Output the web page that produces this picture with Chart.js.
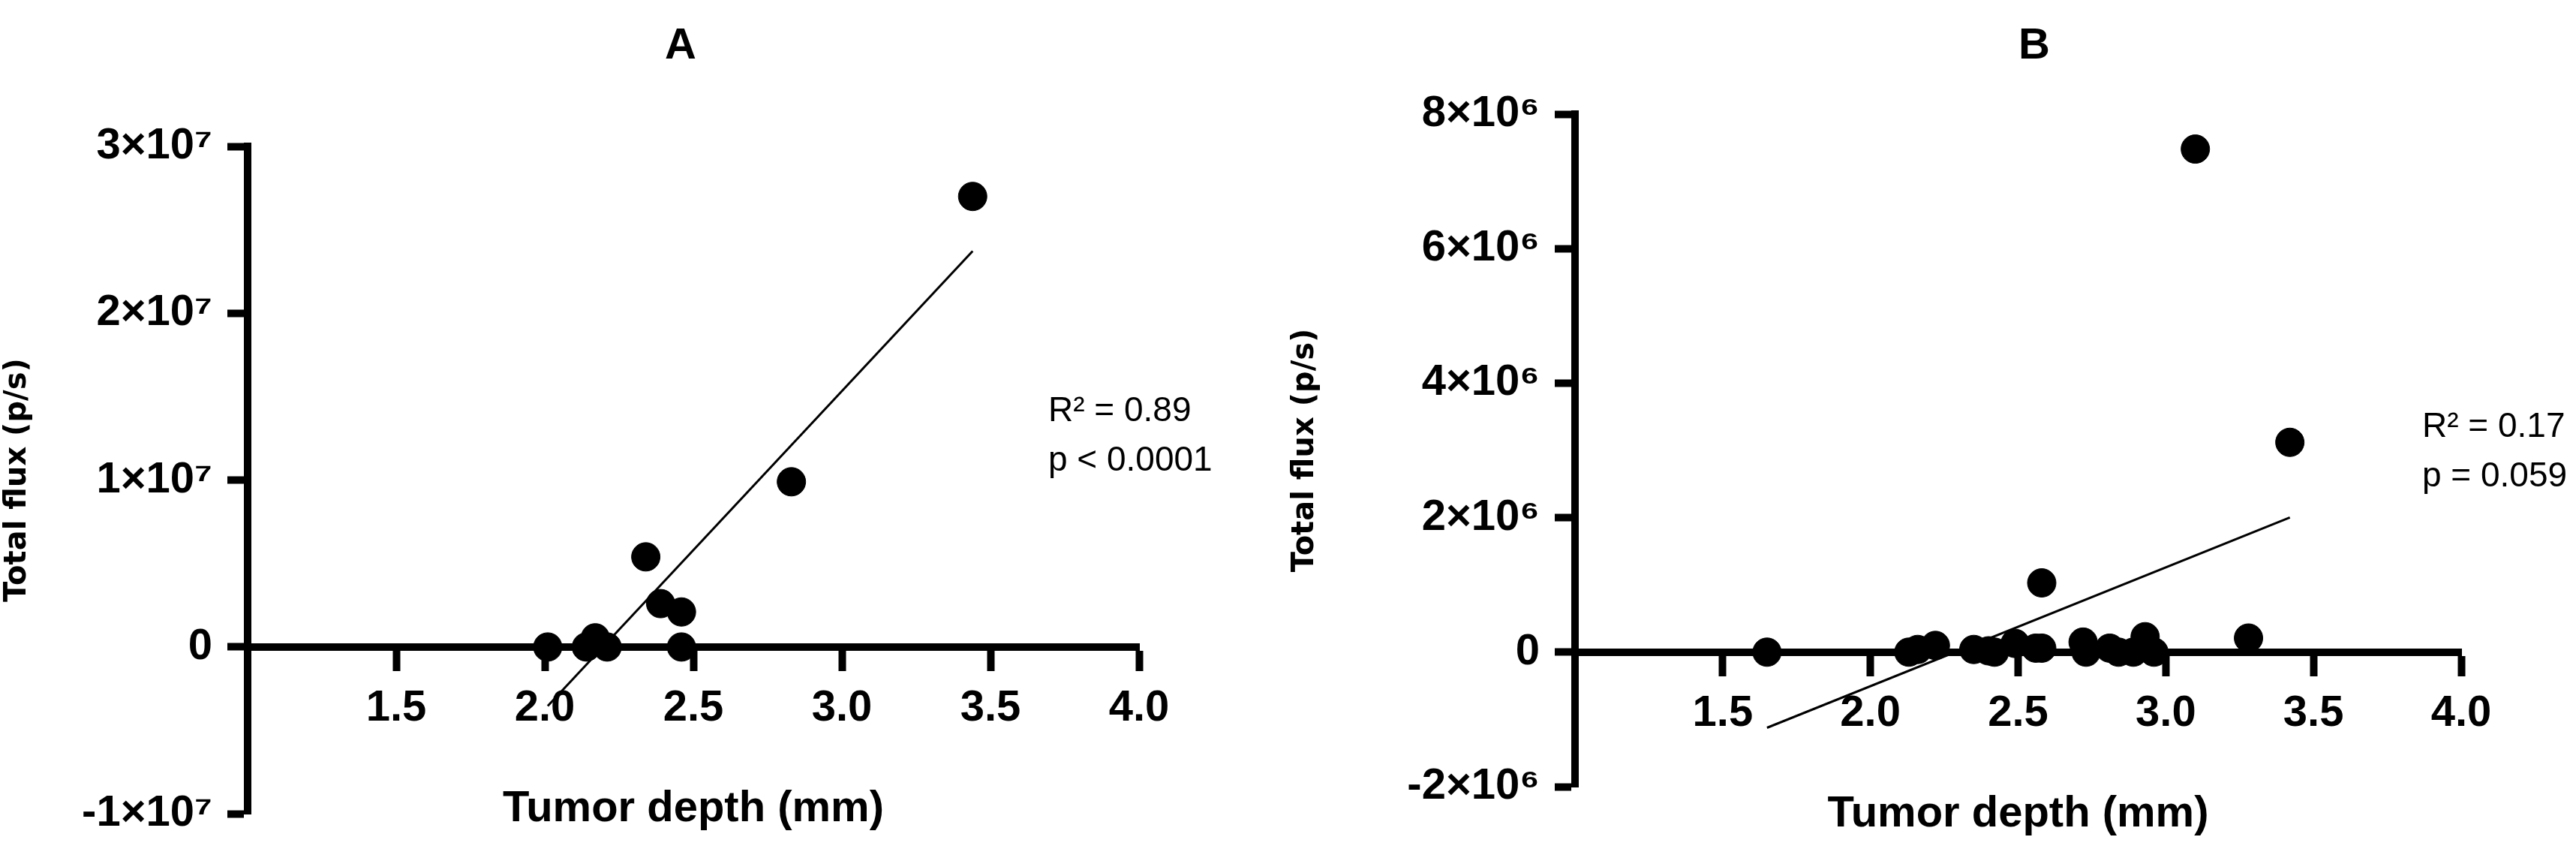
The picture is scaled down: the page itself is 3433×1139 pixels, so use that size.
<!DOCTYPE html>
<html>
<head>
<meta charset="utf-8">
<script src="https://cdn.jsdelivr.net/npm/chart.js@4"></script>
<style>
  body { margin: 0; background: #fff; }
  .wrap { display: flex; width: 3433px; height: 1139px; }
  .panel { width: 1716px; height: 1139px; position: relative; }
</style>
</head>
<body>
<div class="wrap">
  <div class="panel"><canvas id="chartA"></canvas></div>
  <div class="panel"><canvas id="chartB"></canvas></div>
</div>
<script>
// Panel A data
const depthA = [2.01, 2.14, 2.17, 2.21, 2.34, 2.39, 2.46, 2.46, 2.83, 3.44];
const fluxA = [0, 0, 0.55e6, 0, 5.4e6, 2.6e6, 2.1e6, 0, 9.9e6, 27.0e6];
const yTicksA = [-1e7, 0, 1e7, 2e7, 3e7];

// Panel B data
const depthB = [1.65, 2.13, 2.16, 2.22, 2.35, 2.40, 2.42, 2.49, 2.56, 2.58, 2.58, 2.72, 2.73, 2.81, 2.84, 2.89, 2.93, 2.96, 3.10, 3.28, 3.42];
const fluxB = [0, 0, 0.04e6, 0.1e6, 0.04e6, 0.02e6, 0, 0.13e6, 0.06e6, 0.06e6, 1.03e6, 0.15e6, 0, 0.06e6, 0, 0, 0.23e6, 0, 7.48e6, 0.21e6, 3.12e6];
const yTicksB = [-2e6, 0, 2e6, 4e6, 6e6, 8e6];

const xTicks = [1.5, 2.0, 2.5, 3.0, 3.5, 4.0];

const SUP = { '0': '⁰', '1': '¹', '2': '²', '3': '³', '4': '⁴', '5': '⁵', '6': '⁶', '7': '⁷', '8': '⁸', '9': '⁹' };

function sciLabel(v) {
    if (v === 0) return '0';
    const exp = Math.floor(Math.log10(Math.abs(v)));
    const mant = Math.round(v / Math.pow(10, exp));
    return mant + '×10' + String(exp).split('').map(c => SUP[c]).join('');
}

// least squares fit line between min and max x
function fitLine(xs, ys) {
    const n = xs.length;
    const mx = xs.reduce((a, b) => a + b, 0) / n;
    const my = ys.reduce((a, b) => a + b, 0) / n;
    let sxy = 0, sxx = 0;
    for (let i = 0; i < n; i++) {
        sxy += (xs[i] - mx) * (ys[i] - my);
        sxx += (xs[i] - mx) * (xs[i] - mx);
    }
    const slope = sxy / sxx;
    const x0 = Math.min(...xs), x1 = Math.max(...xs);
    return [{ x: x0, y: my + slope * (x0 - mx) }, { x: x1, y: my + slope * (x1 - mx) }];
}

const narrow = '"Liberation Sans Narrow", "Liberation Sans", sans-serif';

// draws panel letter and R²/p annotation
const annotPlugin = {
    id: 'annot',
    afterDraw(chart, args, opts) {
        const ctx = chart.ctx;
        ctx.save();
        ctx.fillStyle = '#000';
        ctx.textAlign = 'center';
        ctx.textBaseline = 'middle';
        ctx.font = 'bold 58px ' + narrow;
        ctx.fillText(opts.letter, opts.letterX, 62);
        ctx.textAlign = 'left';
        ctx.font = '46px ' + narrow;
        ctx.fillText(opts.line1, opts.textX, opts.textY);
        ctx.fillText(opts.line2, opts.textX, opts.textY + 66);
        ctx.restore();
    }
};

function makeChart(id, xs, ys, yTicks, box, annot) {
    const pts = xs.map((x, i) => ({ x: x, y: ys[i] }));
    new Chart(document.getElementById(id), {
        type: 'scatter',
        data: {
            datasets: [
                {
                    data: pts,
                    backgroundColor: '#000',
                    borderColor: '#000',
                    pointRadius: 19,
                    pointHoverRadius: 19
                },
                {
                    type: 'line',
                    data: fitLine(xs, ys),
                    borderColor: '#000',
                    borderWidth: 3,
                    pointRadius: 0,
                    fill: false
                }
            ]
        },
        options: {
            responsive: false,
            animation: false,
            layout: { padding: { left: 0, top: box.top, right: box.right, bottom: box.bottom } },
            plugins: { legend: { display: false }, tooltip: { enabled: false }, annot: annot },
            scales: {
                x: {
                    type: 'linear',
                    position: { y: 0 },
                    min: 1, max: 4,
                    afterBuildTicks: s => { s.ticks = xTicks.map(v => ({ value: v })); },
                    grid: { drawOnChartArea: false, drawTicks: true, tickLength: 27, tickWidth: 10, tickColor: '#000' },
                    border: { width: 10, color: '#000' },
                    ticks: {
                        color: '#000', padding: 20, maxRotation: 0,
                        font: { family: narrow, size: 58, weight: 'bold' },
                        callback: v => v.toFixed(1)
                    },
                    title: {
                        display: true, text: 'Tumor depth (mm)', color: '#000',
                        padding: { top: 45 },
                        font: { family: narrow, size: 58, weight: 'bold' }
                    }
                },
                y: {
                    type: 'linear',
                    min: yTicks[0], max: yTicks[yTicks.length - 1],
                    afterBuildTicks: s => { s.ticks = yTicks.map(v => ({ value: v })); },
                    afterFit: s => { s.width = box.left; },
                    grid: { drawOnChartArea: false, drawTicks: true, tickLength: 27, tickWidth: 10, tickColor: '#000' },
                    border: { width: 10, color: '#000' },
                    ticks: {
                        color: '#000', padding: 20,
                        font: { family: narrow, size: 58, weight: 'bold' },
                        callback: v => sciLabel(v)
                    },
                    title: {
                        display: true, text: 'Total flux (p/s)', color: '#000',
                        padding: { top: 0, bottom: 0 },
                        font: { family: '"DejaVu Sans", sans-serif', size: 40, weight: 'bold' }
                    }
                }
            }
        },
        plugins: [annotPlugin]
    });
}

['chartA', 'chartB'].forEach(id => {
    const c = document.getElementById(id);
    c.width = 1716; c.height = 1139;
});

makeChart('chartA', depthA, fluxA, yTicksA,
    { left: 330, top: 195, right: 198, bottom: 48 },
    { letter: 'A', letterX: 907, line1: 'R² = 0.89', line2: 'p < 0.0001', textX: 1397, textY: 548 });

makeChart('chartB', depthB, fluxB, yTicksB,
    { left: 383, top: 152, right: 152, bottom: 91 },
    { letter: 'B', letterX: 995, line1: 'R² = 0.17', line2: 'p = 0.059', textX: 1512, textY: 569 });
</script>
</body>
</html>
